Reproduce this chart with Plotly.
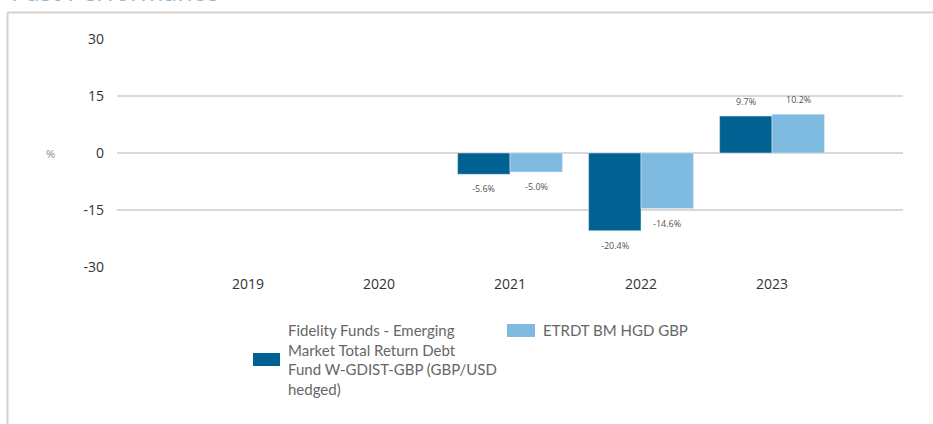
import plotly.graph_objects as go

years = ["2019", "2020", "2021", "2022", "2023"]
fund_values = [None, None, -5.6, -20.4, 9.7]
index_values = [None, None, -5.0, -14.6, 10.2]
fund_name = "Fidelity Funds - Emerging<br>Market Total Return Debt<br>Fund W-GDIST-GBP (GBP/USD<br>hedged)"
index_name = "ETRDT BM HGD GBP"
y_ticks = [30, 15, 0, -15, -30]
y_tick_labels = ["30", "15", "0", "-15", "-30"]

DARK = "#006192"
LIGHT = "#7fbbe1"
W, H = 933, 424
L, R, T, B = 117, 30, 38, 156
pw, ph = W - L - R, H - T - B


def px(x):
    return (x - L) / pw


def py(y):
    return (H - B - y) / ph


def fmt(v):
    return f"{v:.1f}%"


fig = go.Figure()
fig.add_trace(go.Bar(x=years, y=fund_values, name="fund", marker_color=DARK,
                     showlegend=False, hoverinfo="skip"))
fig.add_trace(go.Bar(x=years, y=index_values, name="index", marker_color=LIGHT,
                     showlegend=False, hoverinfo="skip"))

shapes = [
    dict(type="line", xref="paper", yref="paper", x0=px(7.5), x1=px(7.5), y0=py(430), y1=py(12.5),
         line=dict(color="#d3d3d3", width=2)),
    dict(type="line", xref="paper", yref="paper", x0=px(7.5), x1=px(940), y0=py(12.5), y1=py(12.5),
         line=dict(color="#d3d3d3", width=2)),
    dict(type="rect", xref="paper", yref="paper", x0=px(253), x1=px(280), y0=py(366), y1=py(353),
         fillcolor=DARK, line=dict(width=0)),
    dict(type="rect", xref="paper", yref="paper", x0=px(507), x1=px(535), y0=py(337), y1=py(324),
         fillcolor=LIGHT, line=dict(width=0)),
]

annotations = [
    dict(text="Past Performance", xref="paper", yref="paper", x=px(9), y=py(-9),
         xanchor="left", yanchor="middle", showarrow=False,
         font=dict(size=25, color="#8ab9dc", family="Open Sans")),
    dict(text="%", xref="paper", yref="y", x=px(50), y=0, xanchor="center", yanchor="middle",
         showarrow=False, font=dict(size=11, color="#888888", family="Open Sans")),
    dict(text=fund_name, xref="paper", yref="paper", x=px(286), y=py(319), xanchor="left",
         yanchor="top", align="left", showarrow=False,
         font=dict(size=15, color="#666666", family="Lato")),
    dict(text=index_name, xref="paper", yref="paper", x=px(541), y=py(319), xanchor="left",
         yanchor="top", align="left", showarrow=False,
         font=dict(size=15, color="#666666", family="Lato")),
]

for offset, series in ((-0.2, fund_values), (0.2, index_values)):
    for i, v in enumerate(series):
        if v is None:
            continue
        annotations.append(dict(
            text=fmt(v), xref="x", yref="y", x=i + offset, y=v,
            xanchor="center", yanchor="middle", yshift=14.5 if v >= 0 else -14.5,
            showarrow=False, font=dict(size=9, color="#555555", family="Open Sans")))

fig.update_layout(
    width=W, height=H,
    margin=dict(l=L, r=R, t=T, b=B, pad=0),
    paper_bgcolor="white", plot_bgcolor="white",
    barmode="group", bargap=0.2, bargroupgap=0,
    shapes=shapes, annotations=annotations,
    font=dict(family="Open Sans", color="#333333"),
)
fig.update_xaxes(range=[-1, 5], type="category", showgrid=False, showline=False, zeroline=False,
                 ticks="", tickfont=dict(size=14, color="#333333", family="Open Sans"),
                 ticklabelstandoff=6)
fig.update_yaxes(range=[-30.2, 30.2], tickvals=y_ticks, ticktext=y_tick_labels,
                 showgrid=True, gridcolor="#d9d9d9",
                 gridwidth=2, zeroline=True, zerolinecolor="#d9d9d9", zerolinewidth=2,
                 showline=False, ticks="", tickfont=dict(size=14, color="#333333", family="Open Sans"),
                 ticklabelstandoff=12)

fig.write_html("out.html", config={"displayModeBar": False},
               post_script="document.body.style.margin='0';document.body.style.overflow='hidden';")
